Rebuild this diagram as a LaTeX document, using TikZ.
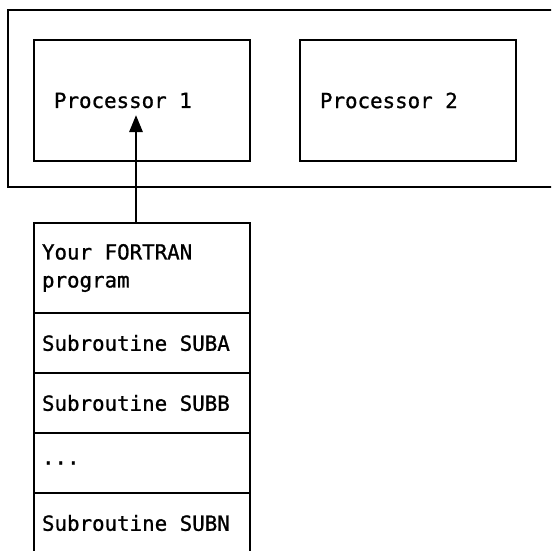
\documentclass[tikz,border=0pt]{standalone}
\usepackage{fontspec}
\setmonofont[FakeBold=1]{DejaVu Sans Mono}
\usetikzlibrary{arrows.meta}
\begin{document}
\begin{tikzpicture}[x=1pt,y=-1pt,line width=2.8pt,
  every node/.style={font=\ttfamily\fontsize{20.8}{28}\selectfont,outer sep=0pt,
    execute at begin node={\spaceskip=\fontdimen2\font\xspaceskip=\fontdimen2\font\relax}},
  frame/.style={draw,rectangle,anchor=north west,minimum width=570pt,minimum height=177pt},
  proc/.style={draw,rectangle,anchor=north west,minimum width=216pt,minimum height=121pt,
    inner xsep=20pt,text width=176pt,align=left},
  layer/.style={draw,rectangle,anchor=north west,minimum width=216pt,minimum height=60pt,
    inner xsep=8pt,text width=200pt,align=left}]
\useasboundingbox (0,0) rectangle (551,551);
\clip (0,0) rectangle (551,551);

% machine with two processors
\node[frame] (machine) at (8,10) {};
\node[proc] (p1) at (34,40) {Processor 1};
\node[proc] (p2) at (300,40) {Processor 2};

% program stack
\node[layer,minimum height=90pt] (prog) at (34,223) {Your FORTRAN\\program};
\node[layer] (suba) at (prog.south west) {Subroutine SUBA};
\node[layer] (subb) at (suba.south west) {Subroutine SUBB};
\node[layer] (dots) at (subb.south west) {...};
\node[layer] (subn) at (dots.south west) {Subroutine SUBN};

% program loaded into processor 1
\coordinate (tip) at (136,115);
\draw[-{Triangle[length=17pt,width=13pt]}] (prog.north -| tip) -- (tip);
\end{tikzpicture}
\end{document}
